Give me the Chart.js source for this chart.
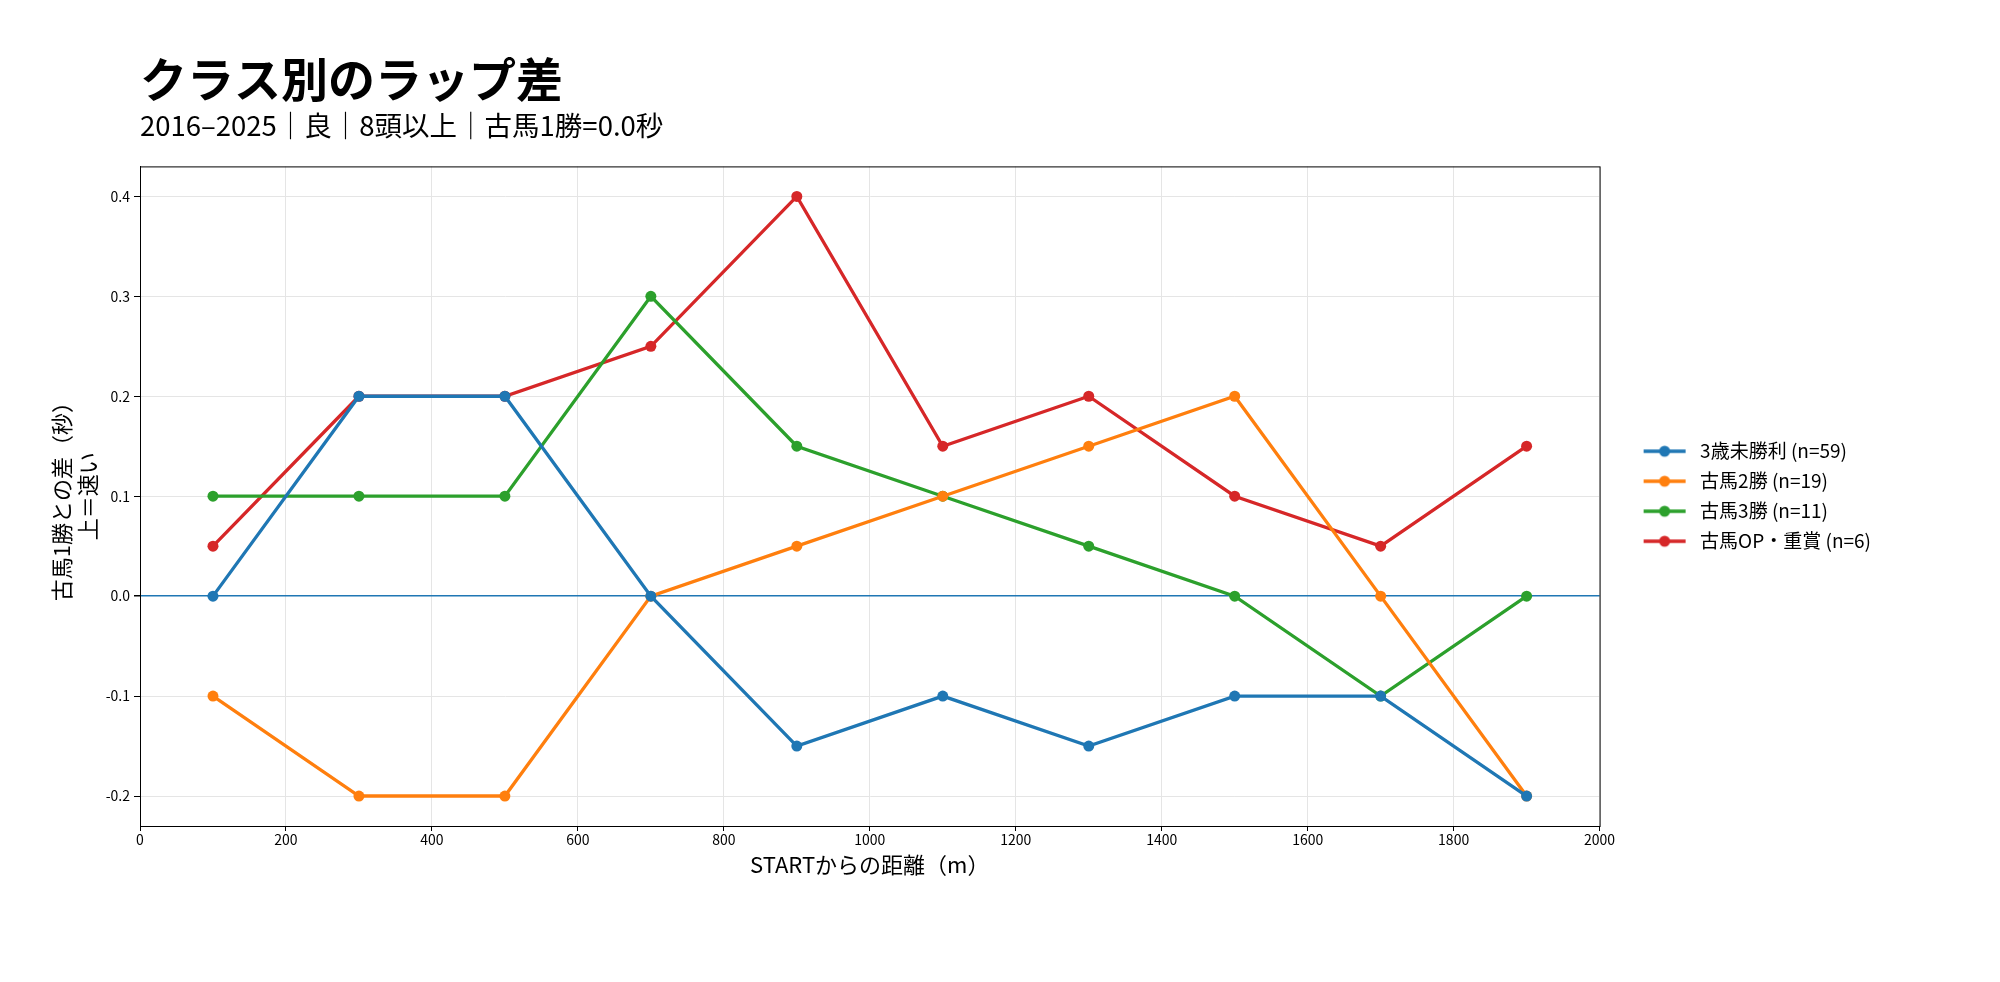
<!DOCTYPE html>
<html lang="ja">
<head>
<meta charset="utf-8">
<title>クラス別のラップ差</title>
<script src="https://cdn.jsdelivr.net/npm/chart.js@4/dist/chart.umd.min.js"></script>
<style>
  html, body { margin: 0; padding: 0; background: #fff; }
  canvas { display: block; }
</style>
</head>
<body>
<canvas id="lapChart" width="2000" height="982"></canvas>
<script>
// distance from START (m)
const distances = [100, 300, 500, 700, 900, 1100, 1300, 1500, 1700, 1900]

// lap difference vs 古馬1勝 (sec), up = faster
const maiden3yo = [0, 0.2, 0.2, 0, -0.15, -0.1, -0.15, -0.1, -0.1, -0.2]
const older2win = [-0.1, -0.2, -0.2, 0, 0.05, 0.1, 0.15, 0.2, 0, -0.2]
const older3win = [0.1, 0.1, 0.1, 0.3, 0.15, 0.1, 0.05, 0, -0.1, 0]
const olderOpen = [0.05, 0.2, 0.2, 0.25, 0.4, 0.15, 0.2, 0.1, 0.05, 0.15]

const seriesLabels = ['3歳未勝利 (n=59)', '古馬2勝 (n=19)', '古馬3勝 (n=11)', '古馬OP・重賞 (n=6)']
const seriesColors = ['#1f77b4', '#ff7f0e', '#2ca02c', '#d62728']

const xTicks = [0, 200, 400, 600, 800, 1000, 1200, 1400, 1600, 1800, 2000]
const yTicks = [-0.2, -0.1, 0, 0.1, 0.2, 0.3, 0.4]

Chart.defaults.font.family = "'Noto Sans CJK JP', 'Noto Sans', sans-serif"
Chart.defaults.color = '#000'

function toPoints(values) {
  return values.map((v, i) => ({ x: distances[i], y: v }))
}

// legend glyph: short line with a dot, like matplotlib
function makeMarker(color) {
  const c = document.createElement('canvas')
  c.width = 80
  c.height = 14
  const g = c.getContext('2d')
  g.strokeStyle = color
  g.lineWidth = 3.3
  g.beginPath()
  g.moveTo(33, 7)
  g.lineTo(75, 7)
  g.stroke()
  g.fillStyle = color
  g.beginPath()
  g.arc(54, 7, 5.5, 0, Math.PI * 2)
  g.fill()
  return c
}
const markers = seriesColors.map(makeMarker)

// black frame around the plot area (top and right spines)
const frame = {
  id: 'frame',
  afterDatasetsDraw(chart) {
    const { ctx, chartArea: a } = chart
    ctx.save()
    ctx.strokeStyle = '#000'
    ctx.lineWidth = 1
    ctx.strokeRect(a.left + 0.5, a.top + 0.5, a.right - a.left, a.bottom - a.top)
    ctx.restore()
  }
}

const allSeries = [maiden3yo, older2win, older3win, olderOpen]

const ctx = document.getElementById('lapChart').getContext('2d')
const lapChart = new Chart(ctx, {
  type: 'line',
  data: {
    datasets: allSeries.map((values, i) => ({
      label: seriesLabels[i],
      data: toPoints(values),
      borderColor: seriesColors[i],
      backgroundColor: seriesColors[i],
      borderWidth: 3.3,
      pointRadius: 5.5,
      pointBorderWidth: 0,
      pointHoverRadius: 5.5,
      tension: 0,
      fill: false
    }))
  },
  plugins: [frame],
  options: {
    responsive: false,
    devicePixelRatio: 1,
    animation: false,
    layout: {
      padding: { top: 40, left: 40, right: 119, bottom: 96 }
    },
    plugins: {
      title: {
        display: true,
        text: 'クラス別のラップ差',
        align: 'start',
        fullSize: false,
        font: { size: 47, weight: 'bold' },
        padding: { top: 11, bottom: 0 }
      },
      subtitle: {
        display: true,
        text: '2016–2025｜良｜8頭以上｜古馬1勝=0.0秒',
        align: 'start',
        fullSize: false,
        font: { size: 27.5 },
        padding: { top: 2, bottom: 24 }
      },
      legend: {
        position: 'right',
        fullSize: false,
        labels: {
          usePointStyle: true,
          pointStyleWidth: 80,
          padding: 11,
          font: { size: 19 },
          generateLabels(chart) {
            const items = Chart.defaults.plugins.legend.labels.generateLabels(chart)
            items.forEach((item, i) => { item.pointStyle = markers[i] })
            return items
          }
        }
      },
      tooltip: { enabled: false }
    },
    scales: {
      x: {
        type: 'linear',
        min: 0,
        max: 2000,
        afterBuildTicks: (scale) => { scale.ticks = xTicks.map((v) => ({ value: v })) },
        afterFit: (scale) => { scale.height = 60 },
        ticks: {
          font: { size: 14 },
          padding: 0,
          maxRotation: 0,
          callback: (value) => String(value)
        },
        grid: { color: '#e5e5e5', lineWidth: 1, tickColor: '#000', tickLength: 5 },
        border: { color: '#000', width: 1 },
        title: {
          display: true,
          text: 'STARTからの距離（m）',
          font: { size: 22 },
          padding: { top: 0, bottom: 8 }
        }
      },
      y: {
        type: 'linear',
        min: -0.23,
        max: 0.43,
        afterBuildTicks: (scale) => { scale.ticks = yTicks.map((v) => ({ value: v })) },
        afterFit: (scale) => { scale.width = 100 },
        ticks: {
          font: { size: 14 },
          padding: 4,
          callback: (value) => value.toFixed(1)
        },
        grid: {
          color: (c) => (c.tick && c.tick.value === 0 ? '#1f77b4' : '#e5e5e5'),
          lineWidth: (c) => (c.tick && c.tick.value === 0 ? 1.5 : 1),
          tickColor: '#000',
          tickLength: 6
        },
        border: { color: '#000', width: 1 },
        title: {
          display: true,
          text: ['古馬1勝との差（秒）', '上＝速い'],
          font: { size: 22 },
          padding: { top: 8, bottom: 0 }
        }
      }
    }
  }
})
</script>
</body>
</html>
